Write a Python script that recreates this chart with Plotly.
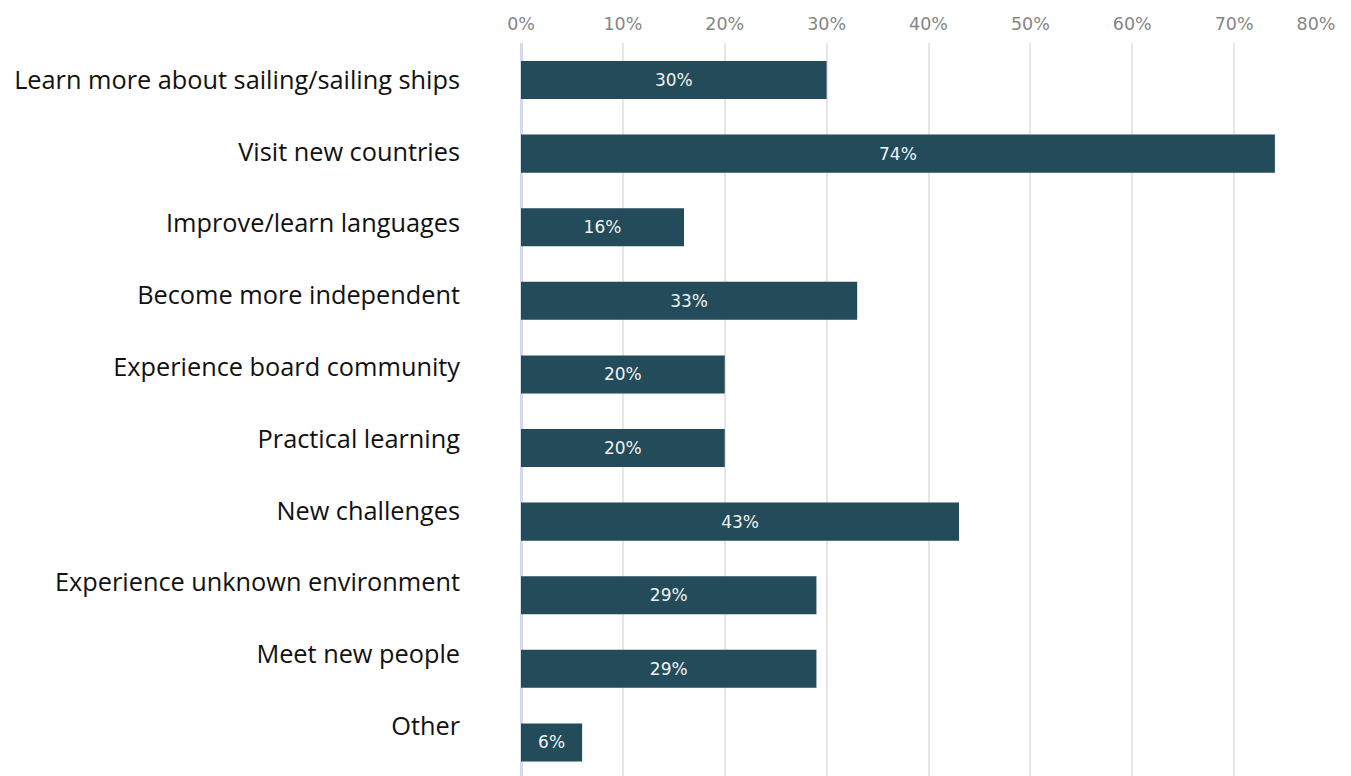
import plotly.graph_objects as go

# Survey: reasons for joining the voyage (share of respondents, %)
categories = [
    "Learn more about sailing/sailing ships",
    "Visit new countries",
    "Improve/learn languages",
    "Become more independent",
    "Experience board community",
    "Practical learning",
    "New challenges",
    "Experience unknown environment",
    "Meet new people",
    "Other",
]
shares = [30, 74, 16, 33, 20, 20, 43, 29, 29, 6]

tick_values = [0, 10, 20, 30, 40, 50, 60, 70, 80]
tick_labels = ["0%", "10%", "20%", "30%", "40%", "50%", "60%", "70%", "80%"]

BAR_COLOR = "#234b59"
TICK_FONT = dict(family="DejaVu Sans", size=17.5, color="#858585")
LABEL_FONT = dict(family="Open Sans", size=25.3, color="#111111")

fig = go.Figure()

fig.add_trace(go.Bar(
    x=shares,
    y=categories,
    orientation="h",
    marker=dict(color=BAR_COLOR, line=dict(width=0)),
    text=[f"{v}%" for v in shares],
    textposition="inside",
    insidetextanchor="middle",
    textangle=0,
    textfont=dict(family="DejaVu Sans", size=17, color="#f2f2f2"),
    cliponaxis=False,
    hoverinfo="skip",
    xaxis="x",
    yaxis="y",
))

# invisible carrier trace for the category label axis
fig.add_trace(go.Scatter(
    x=shares,
    y=categories,
    mode="markers",
    marker=dict(opacity=0),
    hoverinfo="skip",
    showlegend=False,
    xaxis="x",
    yaxis="y2",
))

# carrier for the last (edge) tick label on the top axis
fig.add_trace(go.Scatter(
    x=shares,
    y=categories,
    mode="markers",
    marker=dict(opacity=0),
    hoverinfo="skip",
    showlegend=False,
    xaxis="x2",
    yaxis="y",
))

fig.update_layout(
    width=1351,
    height=776,
    margin=dict(l=521, r=15, t=43, b=0),
    paper_bgcolor="white",
    plot_bgcolor="white",
    showlegend=False,
    bargap=0.483,
    xaxis=dict(
        side="top",
        range=[0, 80],
        tickmode="array",
        tickvals=tick_values[:-1],
        ticktext=tick_labels[:-1],
        tickfont=TICK_FONT,
        ticks="outside",
        ticklen=5,
        tickcolor="rgba(0,0,0,0)",
        showgrid=True,
        gridcolor="#e6e6e6",
        gridwidth=2,
        zeroline=True,
        zerolinecolor="#d3daea",
        zerolinewidth=3,
        showline=False,
    ),
    xaxis2=dict(
        overlaying="x",
        side="top",
        anchor="y",
        range=[0, 80],
        tickmode="array",
        tickvals=tick_values[-1:],
        ticktext=tick_labels[-1:],
        ticklabelposition="outside left",
        ticklabelstandoff=5,
        tickfont=TICK_FONT,
        ticks="outside",
        ticklen=0,
        tickcolor="rgba(0,0,0,0)",
        showgrid=True,
        gridcolor="#e6e6e6",
        gridwidth=2,
        zeroline=False,
        showline=False,
    ),
    yaxis=dict(
        type="category",
        categoryorder="array",
        categoryarray=categories,
        range=[9.456, -0.503],
        showticklabels=False,
        showgrid=False,
        zeroline=False,
        showline=False,
        ticks="",
    ),
    yaxis2=dict(
        type="category",
        categoryorder="array",
        categoryarray=categories,
        overlaying="y",
        anchor="x",
        side="left",
        range=[9.694, -0.515],
        tickfont=LABEL_FONT,
        ticklabelstandoff=60,
        showgrid=False,
        zeroline=False,
        showline=False,
        ticks="",
    ),
)

fig.write_html("out.html")
